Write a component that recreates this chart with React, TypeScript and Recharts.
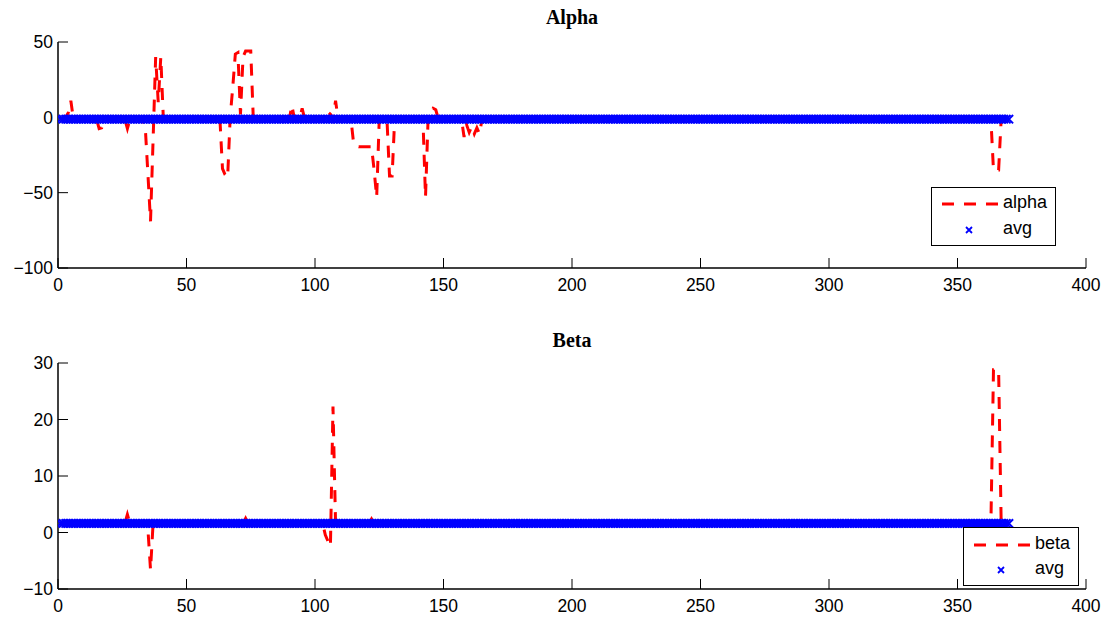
import React from 'react';
import { LineChart, Line, XAxis, YAxis, Legend } from 'recharts';

// Sample index (1..370)
const sampleCount = 370;
const samples: number[] = Array.from({ length: sampleCount }, (_, i) => i + 1);

// Alpha series
const alphaValues: number[] = [
  -1.2, -1.2, 0, 3, 11, -1.2, -1.2, -1.2, -1.2, -1.2,
  -1.2, -1.2, -1.2, -1.2, -1.2, -7.5, -7, -1.2, -1.2, -1.2,
  -1.2, -1.2, -1.2, -1.2, -1.2, -1.2, -7.5, -1.2, -1.2, -1.2,
  -1.2, -1.2, -1.2, -8, -38, -69, -15, 40, 10, 40,
  -1.2, -1.2, -1.2, -1.2, -1.2, -1.2, -1.2, -1.2, -1.2, -1.2,
  -1.2, -1.2, -1.2, -1.2, -1.2, -1.2, -1.2, -1.2, -1.2, -1.2,
  -1.2, -1.2, -1.2, -34, -38, -40, 0, 20, 42, 43,
  2, 40, 44, 44, 44, -1.2, -1.2, -1.2, -1.2, -1.2,
  -1.2, -1.2, -1.2, -1.2, -1.2, -1.2, -1.2, -1.2, -1.2, -1.2,
  8, -1.2, -1.2, -1.2, 6, -1.2, -1.2, -1.2, -1.2, -1.2,
  -1.2, -1.2, -1.2, 3, 3.5, 2, -1.2, 11, -1.2, -1.2,
  -1.2, -1.2, -1.2, -1.2, -17, -19, -19.5, -19.5, -19.5, -19.5,
  -19.5, -19.5, -35, -53, -1.2, -1.2, -1.2, -1.2, -39, -39,
  -1.2, -1.2, -1.2, -1.2, -1.2, -1.2, -1.2, -1.2, -1.2, -1.2,
  -1.2, -1.2, -53, -1.2, 2, 6, 5, -1.2, -1.2, -1.2,
  -1.2, -1.2, -1.2, -1.2, -1.2, -1.2, -1.2, -13, -5, -10,
  -6, -11, -7, -11, -1.2, -1.2, -1.2, -1.2, -1.2, -1.2,
  -1.2, -1.2, -1.2, -1.2, -1.2, -1.2, -1.2, -1.2, -1.2, -1.2,
  -1.2, -1.2, -1.2, -1.2, -1.2, -1.2, -1.2, -1.2, -1.2, -1.2,
  -1.2, -1.2, -1.2, -1.2, -1.2, -1.2, -1.2, -1.2, -1.2, -1.2,
  -1.2, -1.2, -1.2, -1.2, -1.2, -1.2, -1.2, -1.2, -1.2, -1.2,
  -1.2, -1.2, -1.2, -1.2, -1.2, -1.2, -1.2, -1.2, -1.2, -1.2,
  -1.2, -1.2, -1.2, -1.2, -1.2, -1.2, -1.2, -1.2, -1.2, -1.2,
  -1.2, -1.2, -1.2, -1.2, -1.2, -1.2, -1.2, -1.2, -1.2, -1.2,
  -1.2, -1.2, -1.2, -1.2, -1.2, -1.2, -1.2, -1.2, -1.2, -1.2,
  -1.2, -1.2, -1.2, -1.2, -1.2, -1.2, -1.2, -1.2, -1.2, -1.2,
  -1.2, -1.2, -1.2, -1.2, -1.2, -1.2, -1.2, -1.2, -1.2, -1.2,
  -1.2, -1.2, -1.2, -1.2, -1.2, -1.2, -1.2, -1.2, -1.2, -1.2,
  -1.2, -1.2, -1.2, -1.2, -1.2, -1.2, -1.2, -1.2, -1.2, -1.2,
  -1.2, -1.2, -1.2, -1.2, -1.2, -1.2, -1.2, -1.2, -1.2, -1.2,
  -1.2, -1.2, -1.2, -1.2, -1.2, -1.2, -1.2, -1.2, -1.2, -1.2,
  -1.2, -1.2, -1.2, -1.2, -1.2, -1.2, -1.2, -1.2, -1.2, -1.2,
  -1.2, -1.2, -1.2, -1.2, -1.2, -1.2, -1.2, -1.2, -1.2, -1.2,
  -1.2, -1.2, -1.2, -1.2, -1.2, -1.2, -1.2, -1.2, -1.2, -1.2,
  -1.2, -1.2, -1.2, -1.2, -1.2, -1.2, -1.2, -1.2, -1.2, -1.2,
  -1.2, -1.2, -1.2, -1.2, -1.2, -1.2, -1.2, -1.2, -1.2, -1.2,
  -1.2, -1.2, -1.2, -35, -35, -35, -1.2, -1.2, -1.2, -1.2,
];
const alphaAvg = -1.2;

// Beta series
const betaValues: number[] = [
  1.6, 1.6, 1.6, 1.6, 1.6, 1.6, 1.6, 1.6, 1.6, 1.6,
  1.6, 1.6, 1.6, 1.6, 1.6, 1.6, 1.6, 1.6, 1.6, 1.6,
  1.6, 1.6, 1.6, 1.6, 1.6, 1.6, 3.2, 1.6, 1.6, 1.6,
  1.6, 1.6, 1.6, 1.6, 0.5, -6.6, 1.6, 1.6, 1.6, 1.6,
  1.6, 1.6, 1.6, 1.6, 1.6, 1.6, 1.6, 1.6, 1.6, 1.6,
  1.6, 1.6, 1.6, 1.6, 1.6, 1.6, 1.6, 1.6, 1.6, 1.6,
  1.6, 1.6, 1.6, 1.6, 1.6, 1.6, 1.6, 1.6, 1.6, 1.6,
  1.6, 1.6, 2.5, 1.6, 1.6, 1.6, 1.6, 1.6, 1.6, 1.6,
  1.6, 1.6, 1.6, 1.6, 1.6, 1.6, 1.6, 1.6, 1.6, 1.6,
  1.6, 1.6, 1.6, 1.6, 1.6, 1.6, 1.6, 1.6, 1.6, 1.6,
  1.6, 1.6, 1.6, -0.4, -1.5, -2.5, 22.3, 1.6, 1.6, 1.6,
  1.6, 1.6, 1.6, 1.6, 1.6, 1.6, 1.6, 1.6, 1.6, 1.6,
  1.6, 2.4, 1.6, 1.6, 1.6, 1.6, 1.6, 1.6, 1.6, 1.6,
  1.6, 1.6, 1.6, 1.6, 1.6, 1.6, 1.6, 1.6, 1.6, 1.6,
  1.6, 1.6, 1.6, 1.6, 1.6, 1.6, 1.6, 1.6, 1.6, 1.6,
  1.6, 1.6, 1.6, 1.6, 1.6, 1.6, 1.6, 1.6, 1.6, 1.6,
  1.6, 1.6, 1.6, 1.6, 1.6, 1.6, 1.6, 1.6, 1.6, 1.6,
  1.6, 1.6, 1.6, 1.6, 1.6, 1.6, 1.6, 1.6, 1.6, 1.6,
  1.6, 1.6, 1.6, 1.6, 1.6, 1.6, 1.6, 1.6, 1.6, 1.6,
  1.6, 1.6, 1.6, 1.6, 1.6, 1.6, 1.6, 1.6, 1.6, 1.6,
  1.6, 1.6, 1.6, 1.6, 1.6, 1.6, 1.6, 1.6, 1.6, 1.6,
  1.6, 1.6, 1.6, 1.6, 1.6, 1.6, 1.6, 1.6, 1.6, 1.6,
  1.6, 1.6, 1.6, 1.6, 1.6, 1.6, 1.6, 1.6, 1.6, 1.6,
  1.6, 1.6, 1.6, 1.6, 1.6, 1.6, 1.6, 1.6, 1.6, 1.6,
  1.6, 1.6, 1.6, 1.6, 1.6, 1.6, 1.6, 1.6, 1.6, 1.6,
  1.6, 1.6, 1.6, 1.6, 1.6, 1.6, 1.6, 1.6, 1.6, 1.6,
  1.6, 1.6, 1.6, 1.6, 1.6, 1.6, 1.6, 1.6, 1.6, 1.6,
  1.6, 1.6, 1.6, 1.6, 1.6, 1.6, 1.6, 1.6, 1.6, 1.6,
  1.6, 1.6, 1.6, 1.6, 1.6, 1.6, 1.6, 1.6, 1.6, 1.6,
  1.6, 1.6, 1.6, 1.6, 1.6, 1.6, 1.6, 1.6, 1.6, 1.6,
  1.6, 1.6, 1.6, 1.6, 1.6, 1.6, 1.6, 1.6, 1.6, 1.6,
  1.6, 1.6, 1.6, 1.6, 1.6, 1.6, 1.6, 1.6, 1.6, 1.6,
  1.6, 1.6, 1.6, 1.6, 1.6, 1.6, 1.6, 1.6, 1.6, 1.6,
  1.6, 1.6, 1.6, 1.6, 1.6, 1.6, 1.6, 1.6, 1.6, 1.6,
  1.6, 1.6, 1.6, 1.6, 1.6, 1.6, 1.6, 1.6, 1.6, 1.6,
  1.6, 1.6, 1.6, 1.6, 1.6, 1.6, 1.6, 1.6, 1.6, 1.6,
  1.6, 1.6, 1.6, 28.8, 28.8, 28.8, 1.6, 1.6, 1.6, 1.6,
];
const betaAvg = 1.6;

const xTicks = [0, 50, 100, 150, 200, 250, 300, 350, 400];
const alphaTicks = [-100, -50, 0, 50];
const betaTicks = [-10, 0, 10, 20, 30];

const alphaData = samples.map((x, i) => ({ x, alpha: alphaValues[i], avg: alphaAvg }));
const betaData = samples.map((x, i) => ({ x, beta: betaValues[i], avg: betaAvg }));

const SANS = '"Liberation Sans", Arial, Helvetica, sans-serif';
const SERIF = '"Liberation Serif", "Times New Roman", serif';
const BLUE = '#0000ff';
const RED = '#ff0000';

const fmt = (v: number) => String(v).replace('-', '\u2212');

const XMark = (props: any) => {
  const { cx, cy, index } = props;
  if (cx == null || cy == null) return <g key={`n-${index}`} />;
  const s = 4.2;
  return (
    <path
      key={`m-${index}`}
      d={`M${cx - s},${cy - s}L${cx + s},${cy + s}M${cx - s},${cy + s}L${cx + s},${cy - s}`}
      stroke={BLUE}
      strokeWidth={2}
      fill="none"
    />
  );
};

const LegendBox = ({ label, w, h, r1, r2 }: { label: string; w: number; h: number; r1: number; r2: number }) => (
  <div
    style={{
      width: w,
      height: h,
      border: '1.5px solid #000',
      boxSizing: 'border-box',
      background: '#fff',
      position: 'relative',
      fontFamily: SANS,
      fontSize: 18,
      color: '#000',
    }}
  >
    <svg width={w} height={h} style={{ position: 'absolute', left: -1.5, top: -1.5 }}>
      <line x1={11} y1={r1} x2={67} y2={r1} stroke={RED} strokeWidth={3} strokeDasharray="12 10" />
      <path d={`M${35},${r2 - 3}L${41},${r2 + 3}M${35},${r2 + 3}L${41},${r2 - 3}`} stroke={BLUE} strokeWidth={1.8} fill="none" />
    </svg>
    <span style={{ position: 'absolute', left: 71, top: r1 - 13, lineHeight: '20px' }}>{label}</span>
    <span style={{ position: 'absolute', left: 71, top: r2 - 13, lineHeight: '20px' }}>avg</span>
  </div>
);

const axisTick = { fontSize: 17.5, fill: '#000', fontFamily: SANS };

const Panel = ({
  data,
  dataKey,
  domain,
  yTicks,
  height,
  marginTop,
  marginBottom,
  legend,
}: {
  data: any[];
  dataKey: string;
  domain: [number, number];
  yTicks: number[];
  height: number;
  marginTop: number;
  marginBottom: number;
  legend: { left: number; top: number; w: number; h: number; r1: number; r2: number };
}) => (
  <LineChart
    width={1116}
    height={height}
    data={data}
    margin={{ top: marginTop, right: 30, bottom: marginBottom, left: 0 }}
  >
    <XAxis
      xAxisId={0}
      dataKey="x"
      type="number"
      domain={[0, 400]}
      ticks={xTicks}
      interval={0}
      height={30}
      tickSize={-10}
      tickMargin={21}
      tick={axisTick}
      tickFormatter={fmt}
      axisLine={{ stroke: '#000', strokeWidth: 1.5 }}
      tickLine={{ stroke: '#000', strokeWidth: 1 }}
      allowDataOverflow
    />
    <XAxis
      xAxisId="top"
      orientation="top"
      dataKey="x"
      type="number"
      domain={[0, 400]}
      ticks={xTicks}
      interval={0}
      height={0}
      tickSize={-10}
      tick={false}
      axisLine={{ stroke: '#000', strokeWidth: 1.5 }}
      tickLine={{ stroke: '#000', strokeWidth: 1 }}
      allowDataOverflow
    />
    <YAxis
      yAxisId={0}
      type="number"
      domain={domain}
      ticks={yTicks}
      interval={0}
      width={58}
      tickSize={-10}
      tickMargin={15}
      tick={axisTick}
      tickFormatter={fmt}
      axisLine={{ stroke: '#000', strokeWidth: 1.5 }}
      tickLine={{ stroke: '#000', strokeWidth: 1 }}
      allowDataOverflow
    />
    <YAxis
      yAxisId="right"
      orientation="right"
      type="number"
      domain={domain}
      ticks={yTicks}
      interval={0}
      width={0}
      tickSize={-10}
      tick={false}
      axisLine={{ stroke: '#000', strokeWidth: 1.5 }}
      tickLine={{ stroke: '#000', strokeWidth: 1 }}
      allowDataOverflow
    />
    <Line
      dataKey={dataKey}
      stroke={RED}
      strokeWidth={3}
      strokeDasharray="12 10"
      dot={false}
      activeDot={false}
      isAnimationActive={false}
    />
    <Line
      dataKey="avg"
      stroke="none"
      strokeWidth={0}
      dot={XMark}
      activeDot={false}
      isAnimationActive={false}
    />
    <Legend
      layout="horizontal"
      verticalAlign="middle"
      align="center"
      wrapperStyle={{ position: 'absolute', left: legend.left, top: legend.top, width: legend.w, height: legend.h }}
      content={() => <LegendBox label={dataKey} w={legend.w} h={legend.h} r1={legend.r1} r2={legend.r2} />}
    />
  </LineChart>
);

export default function App() {
  return (
    <div style={{ position: 'absolute', left: 0, top: 0, width: 1116, height: 619, background: '#fff' }}>
      <div
        style={{
          position: 'absolute',
          left: 472,
          top: 5,
          width: 200,
          textAlign: 'center',
          fontFamily: SERIF,
          fontWeight: 'bold',
          fontSize: 20,
          lineHeight: '24px',
        }}
      >
        Alpha
      </div>
      <div
        style={{
          position: 'absolute',
          left: 472,
          top: 328,
          width: 200,
          textAlign: 'center',
          fontFamily: SERIF,
          fontWeight: 'bold',
          fontSize: 20,
          lineHeight: '24px',
        }}
      >
        Beta
      </div>
      <div style={{ position: 'absolute', left: 0, top: 0 }}>
        <Panel
          data={alphaData}
          dataKey="alpha"
          domain={[-100, 50]}
          yTicks={alphaTicks}
          height={300}
          marginTop={42}
          marginBottom={2}
          legend={{ left: 931, top: 187, w: 125, h: 59, r1: 17, r2: 43 }}
        />
      </div>
      <div style={{ position: 'absolute', left: 0, top: 310 }}>
        <Panel
          data={betaData}
          dataKey="beta"
          domain={[-10, 30]}
          yTicks={betaTicks}
          height={309}
          marginTop={53}
          marginBottom={0}
          legend={{ left: 963, top: 217, w: 116, h: 59, r1: 18, r2: 43 }}
        />
      </div>
    </div>
  );
}
